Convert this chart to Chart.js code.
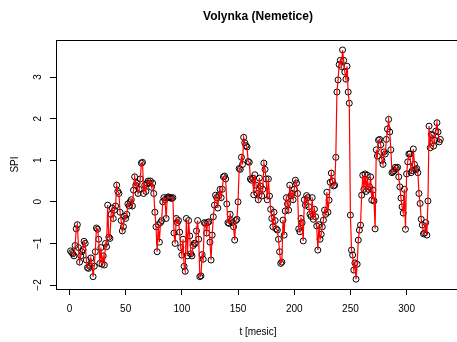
<!DOCTYPE html>
<html>
<head>
<meta charset="utf-8">
<script src="https://cdn.jsdelivr.net/npm/chart.js@4/dist/chart.umd.min.js"></script>
<style>
  html, body { margin: 0; padding: 0; background: #fff; }
  #wrap { width: 457px; height: 342px; }
</style>
</head>
<body>
<div id="wrap"><canvas id="spiChart" width="457" height="342"></canvas></div>
<script>
var chartTitle = "Volynka (Nemetice)";
var xTitle = "t [mesic]";
var yTitle = "SPI";
var xTicks = [0, 50, 100, 150, 200, 250, 300];
var yTicks = [-2, -1, 0, 1, 2, 3];
var yTickLabels = ["\u22122", "\u22121", "0", "1", "2", "3"];

// SPI values, month 1 .. 330
var spi = [
  -1.18, -1.22, -1.25, -1.3, -1.05, -0.65, -0.55, -1.1, -1.45, -1.3,
  -1.2, -1.15, -0.95, -1.0, -1.4, -1.58, -1.6, -1.55, -1.35, -1.48,
  -1.8, -1.55, -1.2, -0.63, -0.66, -0.9, -1.48, -1.1, -1.5, -1.3,
  -1.52, -1.0, -1.08, -0.08, -0.85, -0.88, -0.3, -0.15, -0.4, -0.2,
  -0.1, 0.4, 0.25, 0.2, -0.25, -0.45, -0.7, -0.6, -0.35, -0.4,
  -0.3, -0.05, -0.1, 0.0, 0.05, -0.1, 0.28, 0.6, 0.4, 0.45,
  0.2, 0.3, 0.55, 0.93, 0.95, 0.2, 0.4, 0.25, 0.45, 0.5,
  0.45, 0.5, 0.35, 0.45, 0.2, -0.25, -0.6, -1.2, -0.55, -0.97,
  -0.5, -0.45, 0.0, 0.1, 0.05, -0.4, 0.1, 0.12, 0.1, 0.1,
  0.08, 0.1, -0.75, -1.0, -0.4, -0.5, -0.45, -0.73, -1.1, -1.28,
  -0.9, -1.55, -1.67, -0.4, -1.3, -0.45, -0.82, -1.25, -1.3, -1.05,
  -1.0, -1.0, -0.7, -0.45, -0.9, -1.8, -1.78, -1.27, -1.38, -0.5,
  -0.52, -0.75, -0.5, -0.48, -0.97, -1.4, -0.8, -0.36, -0.08, 0.16,
  0.1, -0.15, 0.15, 0.3, 0.1, 0.3, 0.6, 0.62, 0.55, -0.05,
  -0.5, -0.52, -0.3, -0.45, -0.5, -0.6, -0.92, -0.45, -0.42, 0.0,
  0.8, 0.78, 1.07, 0.9, 1.55, 1.42, 1.35, 1.32, 0.97, 0.95,
  0.55, 0.52, 0.57, 0.17, 0.65, 0.4, 0.2, 0.05, 0.57, 0.38,
  0.14, 0.3, 0.93, 0.78, 0.55, 0.05, 0.55, 0.14, -0.18, -0.4,
  -0.6, -0.25, -0.45, -0.65, -0.68, -0.9, -1.2, -1.48, -1.45, -0.44,
  -0.8, -0.22, 0.1, -0.05, -0.2, 0.4, 0.14, 0.2, 0.05, 0.3,
  0.52, 0.45, 0.2, -0.65, -0.72, -0.4, -0.5, -0.94, 0.05, -0.08,
  0.15, 0.1, -0.12, -0.3, -0.35, 0.1, -0.42, -0.18, -0.36, -0.58,
  -1.16, -0.55, -0.9, -0.78, -0.6, -0.44, -0.2, -0.3, 0.23, -0.25,
  0.04, 0.47, 0.69, 0.5, 0.38, 0.4, 1.07, 2.64, 2.93, 3.3,
  3.4, 3.25, 3.65, 3.4, 3.12, 2.95, 3.26, 2.64, 2.37, -0.32,
  -1.16, -1.28, -1.64, -1.47, -1.86, -1.5, -0.92, -0.68, -0.56, 0.16,
  0.64, 0.3, 0.67, 0.25, 0.64, 0.3, 0.36, 0.6, 0.04, 0.28,
  0.02, -0.65, 1.25, 1.1, 1.48, 1.5, 1.37, 1.0, 0.9, 1.2,
  1.15, 1.5, 1.75, 1.98, 1.68, 1.25, 0.7, 0.72, 0.75, 0.83,
  0.8, 0.83, 0.6, 0.36, 0.09, -0.12, -0.27, 0.3, -0.66, 0.67,
  0.96, 1.15, 1.15, 0.7, 0.75, 1.27, 0.9, 0.77, 0.8, 0.7,
  0.2, -0.04, -0.42, -0.56, -0.77, -0.75, -0.5, -0.8, 0.02, 1.82,
  1.3, 1.62, 1.6, 1.34, 1.48, 1.7, 1.9, 1.68, 1.44, 1.5
];

var points = spi.map(function (v, i) {
  return { x: i + 1, y: v };
});

var font = '"Liberation Sans", Arial, Helvetica, sans-serif';

// box, rotated y labels and titles drawn like R base graphics
var rFrame = {
  id: "rFrame",
  afterDraw: function (chart) {
    var ctx = chart.ctx;
    var a = chart.chartArea;
    var y = chart.scales.y;
    ctx.save();
    ctx.strokeStyle = "#000";
    ctx.lineWidth = 1;
    ctx.strokeRect(a.left + 0.5, a.top + 0.5, 470 - a.left, a.bottom - a.top);

    ctx.fillStyle = "#000";
    ctx.textAlign = "center";
    ctx.textBaseline = "middle";
    ctx.font = "bold 12px " + font;
    ctx.fillText(chartTitle, 258, 17);

    ctx.font = "10px " + font;
    ctx.fillText(xTitle, 258, 332);

    yTicks.forEach(function (v, i) {
      ctx.save();
      ctx.translate(38, y.getPixelForValue(v));
      ctx.rotate(-Math.PI / 2);
      ctx.fillText(yTickLabels[i], 0, 0);
      ctx.restore();
    });

    ctx.save();
    ctx.translate(15, (a.top + a.bottom) / 2);
    ctx.rotate(-Math.PI / 2);
    ctx.fillText(yTitle, 0, 0);
    ctx.restore();
    ctx.restore();
  }
};

var ctx = document.getElementById("spiChart").getContext("2d");
var spiChart = new Chart(ctx, {
  type: "line",
  data: {
    datasets: [
      {
        label: "fit",
        data: points,
        borderColor: "#ff0000",
        borderWidth: 1.2,
        pointRadius: 0,
        tension: 0,
        fill: false,
        order: 0
      },
      {
        label: "SPI",
        data: points,
        showLine: false,
        pointRadius: 3,
        pointBorderWidth: 1,
        pointBorderColor: "#000",
        pointBackgroundColor: "rgba(0,0,0,0)",
        order: 1
      }
    ]
  },
  options: {
    responsive: false,
    animation: false,
    devicePixelRatio: 1,
    layout: { padding: { top: 40, left: 0, right: 0, bottom: 0 } },
    plugins: {
      legend: { display: false },
      tooltip: { enabled: false },
      title: { display: false }
    },
    scales: {
      x: {
        type: "linear",
        min: -12.0,
        max: 340.4,
        afterBuildTicks: function (scale) {
          scale.ticks = xTicks.map(function (v) { return { value: v }; });
        },
        afterFit: function (scale) { scale.height = 53; },
        ticks: {
          color: "#000",
          font: { family: font, size: 10 },
          padding: 8,
          maxRotation: 0,
          autoSkip: false
        },
        grid: { drawOnChartArea: false, drawTicks: true, tickLength: 6, color: "#000" },
        border: { display: false }
      },
      y: {
        type: "linear",
        min: -2.096,
        max: 3.89,
        afterBuildTicks: function (scale) {
          scale.ticks = yTicks.map(function (v) { return { value: v }; });
        },
        afterFit: function (scale) { scale.width = 56; },
        ticks: { display: false },
        grid: { drawOnChartArea: false, drawTicks: true, tickLength: 6, color: "#000" },
        border: { display: false }
      }
    }
  },
  plugins: [rFrame]
});
</script>
</body>
</html>
